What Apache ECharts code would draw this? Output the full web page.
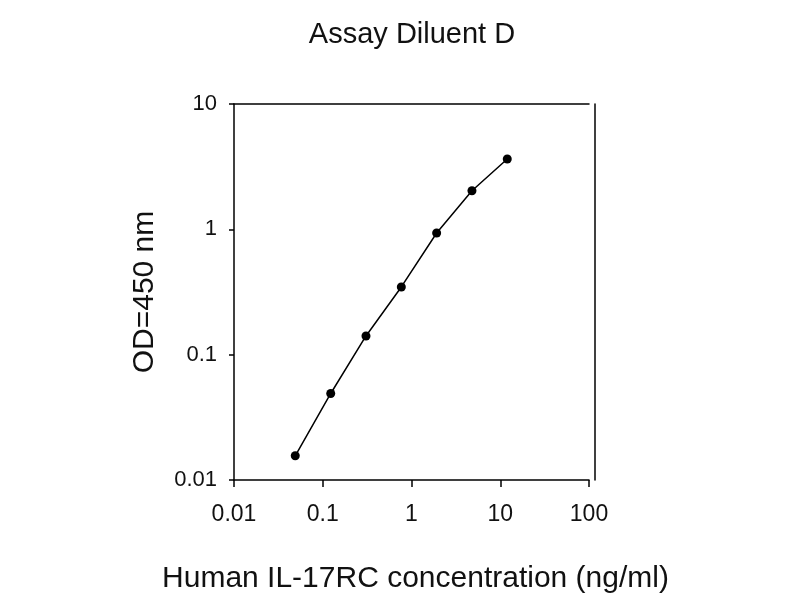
<!DOCTYPE html>
<html>
<head>
<meta charset="utf-8">
<script src="https://cdn.jsdelivr.net/npm/echarts@6/dist/echarts.min.js"></script>
<style>html,body{margin:0;padding:0;background:#fff;}#chart{width:800px;height:600px;}</style>
</head>
<body>
<div id="chart"></div>
<script>
const concentrations = [0.049, 0.123, 0.307, 0.768, 1.92, 4.8, 12];
const odValues = [0.0156, 0.049, 0.141, 0.347, 0.935, 2.03, 3.64];
const titleText = "Assay Diluent D";
const xName = "Human IL-17RC concentration (ng/ml)";
const yName = "OD=450 nm";

const font = "'Liberation Sans', Arial, sans-serif";
const chart = echarts.init(document.getElementById('chart'));
chart.setOption({
  animation: false,
  backgroundColor: '#fff',
  title: {
    text: titleText, left: 407, top: 15, textAlign: 'center',
    textStyle: { fontFamily: font, fontWeight: 'normal', fontSize: 29, color: '#111' }
  },
  grid: { left: 234, right: 211, top: 104, bottom: 120, containLabel: false },
  xAxis: [{
    type: 'log', logBase: 10, min: 0.01, max: 100,
    name: xName, nameLocation: 'middle', nameGap: 84,
    nameTextStyle: { fontFamily: font, fontSize: 30, color: '#111', padding: [0, 0, 0, 8] },
    axisLine: { lineStyle: { color: '#000', width: 1.5 } },
    axisTick: { length: 7, lineStyle: { color: '#000', width: 1.5 } },
    minorTick: { show: false },
    axisLabel: { fontFamily: font, fontSize: 23, color: '#111', margin: 23,
      formatter: v => String(+v.toPrecision(6)) },
    splitLine: { show: false }
  }, {
    type: 'log', logBase: 10, min: 0.01, max: 100, position: 'top',
    axisLine: { lineStyle: { color: '#000', width: 1.5 } },
    axisTick: { show: false }, axisLabel: { show: false }, splitLine: { show: false }
  }],
  yAxis: [{
    type: 'log', logBase: 10, min: 0.01, max: 10,
    name: yName, nameLocation: 'middle', nameGap: 74, nameRotate: 90,
    nameTextStyle: { fontFamily: font, fontSize: 30, color: '#111' },
    axisLine: { lineStyle: { color: '#000', width: 1.5 } },
    axisTick: { length: 5, lineStyle: { color: '#000', width: 1.5 } },
    axisLabel: { fontFamily: font, fontSize: 22, color: '#111', margin: 17,
      formatter: v => String(+v.toPrecision(6)) },
    splitLine: { show: false }
  }, {
    type: 'log', logBase: 10, min: 0.01, max: 10, position: 'right', offset: 6,
    axisLine: { lineStyle: { color: '#000', width: 1.5 } },
    axisTick: { show: false }, axisLabel: { show: false }, splitLine: { show: false }
  }],
  series: [{
    type: 'line',
    data: concentrations.map((c, i) => [c, odValues[i]]),
    symbol: 'circle', symbolSize: 9,
    itemStyle: { color: '#000' },
    lineStyle: { color: '#000', width: 1.5 }
  }]
});
</script>
</body>
</html>
